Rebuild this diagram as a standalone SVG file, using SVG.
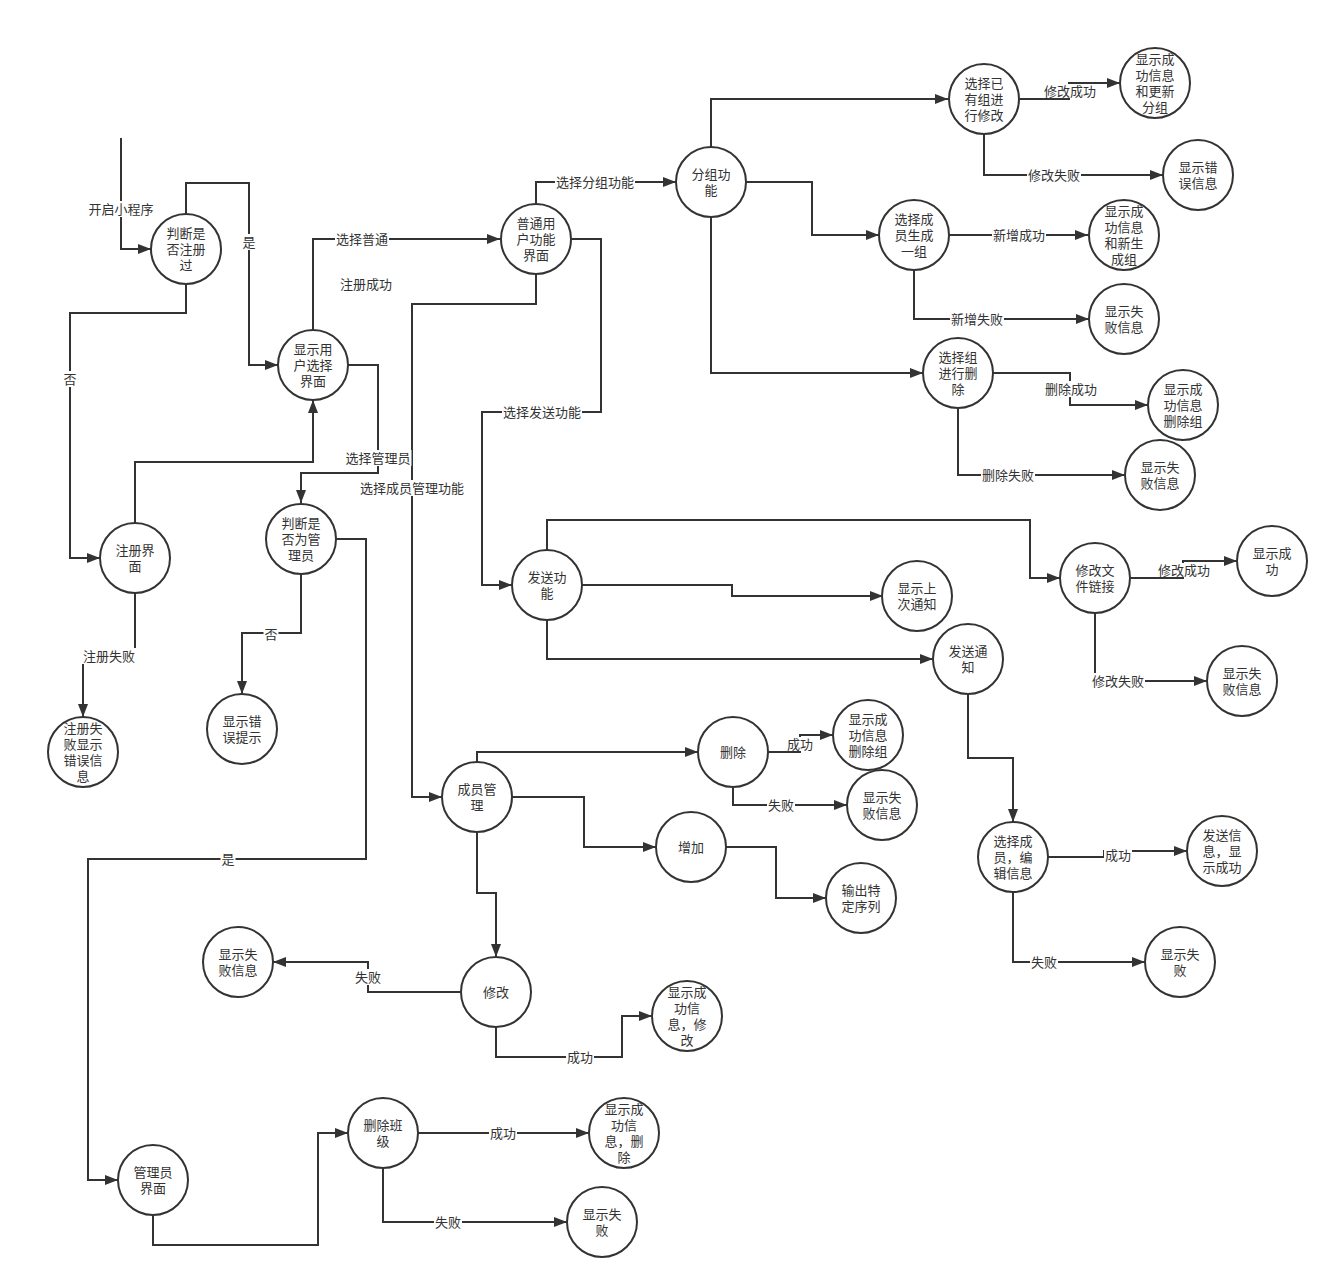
<svg xmlns="http://www.w3.org/2000/svg" width="1339" height="1288" viewBox="0 0 1339 1288">
<style>
.e{fill:none;stroke:#333;stroke-width:2}
.a{marker-end:url(#arr)}
.n circle{fill:#fff;stroke:#333;stroke-width:2}
text{font-family:"Noto Sans CJK SC","Liberation Sans",sans-serif;font-size:13px;fill:#333;text-anchor:middle}
.lb{fill:#fff}
</style>
<defs>
<marker id="arr" viewBox="0 0 13 10" refX="13" refY="5" markerWidth="13" markerHeight="10" markerUnits="userSpaceOnUse" orient="auto"><path d="M0,0 L13,5 L0,10 z" fill="#333"/></marker>
</defs>
<rect width="1339" height="1288" fill="#fff"/>
<g id="connectors">
<polyline class="e a" points="121,138 121,249 151,249"/>
<polyline class="e a" points="186,214 186,183 249,183 249,365 278,365"/>
<polyline class="e a" points="186,284 186,313 70,313 70,558 100,558"/>
<polyline class="e a" points="135,523 135,462 313,462 313,400"/>
<polyline class="e a" points="313,330 313,239 500,239"/>
<polyline class="e a" points="348,365 378,365 378,473 301,473 301,503"/>
<polyline class="e a" points="135,593 135,656 83,656 83,717"/>
<polyline class="e a" points="301,574 301,633 242,633 242,694"/>
<polyline class="e a" points="336,539 366,539 366,859 88,859 88,1180 118,1180"/>
<polyline class="e a" points="536,203 536,182 676,182"/>
<polyline class="e a" points="571,239 601,239 601,412 482,412 482,585 512,585"/>
<polyline class="e a" points="536,274 536,304 412,304 412,797 442,797"/>
<polyline class="e a" points="711,147 711,99 948,99"/>
<polyline class="e a" points="1019,99 1069,99 1069,83 1120,83"/>
<polyline class="e a" points="984,134 984,175 1163,175"/>
<polyline class="e a" points="746,182 812,182 812,235 879,235"/>
<polyline class="e a" points="949,235 1088,235"/>
<polyline class="e a" points="914,270 914,319 1089,319"/>
<polyline class="e a" points="711,217 711,373 923,373"/>
<polyline class="e a" points="993,373 1070,373 1070,405 1148,405"/>
<polyline class="e a" points="958,408 958,475 1125,475"/>
<polyline class="e a" points="547,550 547,520 1030,520 1030,578 1060,578"/>
<polyline class="e a" points="582,585 732,585 732,596 883,596"/>
<polyline class="e a" points="547,620 547,659 933,659"/>
<polyline class="e a" points="1130,578 1183,578 1183,561 1237,561"/>
<polyline class="e a" points="1095,613 1095,681 1207,681"/>
<polyline class="e a" points="968,694 968,758 1013,758 1013,822"/>
<polyline class="e a" points="1048,857 1104,857 1104,851 1187,851"/>
<polyline class="e a" points="1013,892 1013,962 1145,962"/>
<polyline class="e a" points="477,762 477,752 698,752"/>
<polyline class="e a" points="768,752 800,752 800,735 833,735"/>
<polyline class="e a" points="733,787 733,805 847,805"/>
<polyline class="e a" points="512,797 584,797 584,847 656,847"/>
<polyline class="e a" points="726,847 776,847 776,898 826,898"/>
<polyline class="e a" points="477,832 477,893 496,893 496,957"/>
<polyline class="e a" points="461,992 368,992 368,962 273,962"/>
<polyline class="e a" points="496,1027 496,1057 622,1057 622,1016 652,1016"/>
<polyline class="e a" points="153,1215 153,1245 318,1245 318,1133 348,1133"/>
<polyline class="e a" points="418,1133 589,1133"/>
<polyline class="e a" points="383,1168 383,1222 567,1222"/>
</g>
<g id="edge-labels">
<rect class="lb" x="87.5" y="201" width="67" height="16"/><text x="121" y="213.5">开启小程序</text>
<rect class="lb" x="241.5" y="234" width="15" height="16"/><text x="249" y="246.5">是</text>
<rect class="lb" x="62.5" y="371" width="15" height="16"/><text x="70" y="383.5">否</text>
<rect class="lb" x="335" y="231" width="54" height="16"/><text x="362" y="243.5">选择普通</text>
<text x="366" y="288.5">注册成功</text>
<rect class="lb" x="344.5" y="450" width="67" height="16"/><text x="378" y="462.5">选择管理员</text>
<rect class="lb" x="82" y="648" width="54" height="16"/><text x="109" y="660.5">注册失败</text>
<rect class="lb" x="263.5" y="626" width="15" height="16"/><text x="271" y="638.5">否</text>
<rect class="lb" x="220.5" y="851" width="15" height="16"/><text x="228" y="863.5">是</text>
<rect class="lb" x="555" y="174" width="80" height="16"/><text x="595" y="186.5">选择分组功能</text>
<rect class="lb" x="502" y="404" width="80" height="16"/><text x="542" y="416.5">选择发送功能</text>
<rect class="lb" x="359" y="480" width="106" height="16"/><text x="412" y="492.5">选择成员管理功能</text>
<rect class="lb" x="1043" y="84" width="54" height="14"/><text x="1070" y="95.5">修改成功</text>
<rect class="lb" x="1027" y="167" width="54" height="16"/><text x="1054" y="179.5">修改失败</text>
<rect class="lb" x="992" y="227" width="54" height="16"/><text x="1019" y="239.5">新增成功</text>
<rect class="lb" x="950" y="311" width="54" height="16"/><text x="977" y="323.5">新增失败</text>
<rect class="lb" x="1044" y="381" width="54" height="16"/><text x="1071" y="393.5">删除成功</text>
<rect class="lb" x="981" y="467" width="54" height="16"/><text x="1008" y="479.5">删除失败</text>
<rect class="lb" x="1157" y="563" width="54" height="14"/><text x="1184" y="574.5">修改成功</text>
<rect class="lb" x="1091" y="673" width="54" height="16"/><text x="1118" y="685.5">修改失败</text>
<rect class="lb" x="1104" y="847" width="28" height="16"/><text x="1118" y="859.5">成功</text>
<rect class="lb" x="1030" y="954" width="28" height="16"/><text x="1044" y="966.5">失败</text>
<rect class="lb" x="786" y="737" width="28" height="14"/><text x="800" y="748.5">成功</text>
<rect class="lb" x="767" y="797" width="28" height="16"/><text x="781" y="809.5">失败</text>
<rect class="lb" x="354" y="969" width="28" height="16"/><text x="368" y="981.5">失败</text>
<rect class="lb" x="566" y="1049" width="28" height="16"/><text x="580" y="1061.5">成功</text>
<rect class="lb" x="489" y="1125" width="28" height="16"/><text x="503" y="1137.5">成功</text>
<rect class="lb" x="434" y="1214" width="28" height="16"/><text x="448" y="1226.5">失败</text>
</g>
<g id="n1" class="n"><circle cx="186" cy="249" r="35"/><text><tspan x="186" y="237.5">判断是</tspan><tspan x="186" y="253.5">否注册</tspan><tspan x="186" y="269.5">过</tspan></text></g>
<g id="n2" class="n"><circle cx="313" cy="365" r="35"/><text><tspan x="313" y="353.5">显示用</tspan><tspan x="313" y="369.5">户选择</tspan><tspan x="313" y="385.5">界面</tspan></text></g>
<g id="n3" class="n"><circle cx="135" cy="558" r="35"/><text><tspan x="135" y="554.5">注册界</tspan><tspan x="135" y="570.5">面</tspan></text></g>
<g id="n4" class="n"><circle cx="83" cy="752" r="35"/><text><tspan x="83" y="732.5">注册失</tspan><tspan x="83" y="748.5">败显示</tspan><tspan x="83" y="764.5">错误信</tspan><tspan x="83" y="780.5">息</tspan></text></g>
<g id="n5" class="n"><circle cx="301" cy="539" r="35"/><text><tspan x="301" y="527.5">判断是</tspan><tspan x="301" y="543.5">否为管</tspan><tspan x="301" y="559.5">理员</tspan></text></g>
<g id="n6" class="n"><circle cx="242" cy="729" r="35"/><text><tspan x="242" y="725.5">显示错</tspan><tspan x="242" y="741.5">误提示</tspan></text></g>
<g id="n7" class="n"><circle cx="536" cy="239" r="35"/><text><tspan x="536" y="227.5">普通用</tspan><tspan x="536" y="243.5">户功能</tspan><tspan x="536" y="259.5">界面</tspan></text></g>
<g id="n8" class="n"><circle cx="711" cy="182" r="35"/><text><tspan x="711" y="178.5">分组功</tspan><tspan x="711" y="194.5">能</tspan></text></g>
<g id="n9" class="n"><circle cx="984" cy="99" r="35"/><text><tspan x="984" y="87.5">选择已</tspan><tspan x="984" y="103.5">有组进</tspan><tspan x="984" y="119.5">行修改</tspan></text></g>
<g id="n10" class="n"><circle cx="1155" cy="83" r="35"/><text><tspan x="1155" y="63.5">显示成</tspan><tspan x="1155" y="79.5">功信息</tspan><tspan x="1155" y="95.5">和更新</tspan><tspan x="1155" y="111.5">分组</tspan></text></g>
<g id="n11" class="n"><circle cx="1198" cy="175" r="35"/><text><tspan x="1198" y="171.5">显示错</tspan><tspan x="1198" y="187.5">误信息</tspan></text></g>
<g id="n12" class="n"><circle cx="914" cy="235" r="35"/><text><tspan x="914" y="223.5">选择成</tspan><tspan x="914" y="239.5">员生成</tspan><tspan x="914" y="255.5">一组</tspan></text></g>
<g id="n13" class="n"><circle cx="1124" cy="235" r="35"/><text><tspan x="1124" y="215.5">显示成</tspan><tspan x="1124" y="231.5">功信息</tspan><tspan x="1124" y="247.5">和新生</tspan><tspan x="1124" y="263.5">成组</tspan></text></g>
<g id="n14" class="n"><circle cx="1124" cy="319" r="35"/><text><tspan x="1124" y="315.5">显示失</tspan><tspan x="1124" y="331.5">败信息</tspan></text></g>
<g id="n15" class="n"><circle cx="958" cy="373" r="35"/><text><tspan x="958" y="361.5">选择组</tspan><tspan x="958" y="377.5">进行删</tspan><tspan x="958" y="393.5">除</tspan></text></g>
<g id="n16" class="n"><circle cx="1183" cy="405" r="35"/><text><tspan x="1183" y="393.5">显示成</tspan><tspan x="1183" y="409.5">功信息</tspan><tspan x="1183" y="425.5">删除组</tspan></text></g>
<g id="n17" class="n"><circle cx="1160" cy="475" r="35"/><text><tspan x="1160" y="471.5">显示失</tspan><tspan x="1160" y="487.5">败信息</tspan></text></g>
<g id="n18" class="n"><circle cx="547" cy="585" r="35"/><text><tspan x="547" y="581.5">发送功</tspan><tspan x="547" y="597.5">能</tspan></text></g>
<g id="n19" class="n"><circle cx="917" cy="596" r="35"/><text><tspan x="917" y="592.5">显示上</tspan><tspan x="917" y="608.5">次通知</tspan></text></g>
<g id="n20" class="n"><circle cx="968" cy="659" r="35"/><text><tspan x="968" y="655.5">发送通</tspan><tspan x="968" y="671.5">知</tspan></text></g>
<g id="n21" class="n"><circle cx="1095" cy="578" r="35"/><text><tspan x="1095" y="574.5">修改文</tspan><tspan x="1095" y="590.5">件链接</tspan></text></g>
<g id="n22" class="n"><circle cx="1272" cy="561" r="35"/><text><tspan x="1272" y="557.5">显示成</tspan><tspan x="1272" y="573.5">功</tspan></text></g>
<g id="n23" class="n"><circle cx="1242" cy="681" r="35"/><text><tspan x="1242" y="677.5">显示失</tspan><tspan x="1242" y="693.5">败信息</tspan></text></g>
<g id="n24" class="n"><circle cx="1013" cy="857" r="35"/><text><tspan x="1013" y="845.5">选择成</tspan><tspan x="1013" y="861.5">员，编</tspan><tspan x="1013" y="877.5">辑信息</tspan></text></g>
<g id="n25" class="n"><circle cx="1222" cy="851" r="35"/><text><tspan x="1222" y="839.5">发送信</tspan><tspan x="1222" y="855.5">息，显</tspan><tspan x="1222" y="871.5">示成功</tspan></text></g>
<g id="n26" class="n"><circle cx="1180" cy="962" r="35"/><text><tspan x="1180" y="958.5">显示失</tspan><tspan x="1180" y="974.5">败</tspan></text></g>
<g id="n27" class="n"><circle cx="477" cy="797" r="35"/><text><tspan x="477" y="793.5">成员管</tspan><tspan x="477" y="809.5">理</tspan></text></g>
<g id="n28" class="n"><circle cx="733" cy="752" r="35"/><text x="733" y="756.5">删除</text></g>
<g id="n29" class="n"><circle cx="868" cy="735" r="35"/><text><tspan x="868" y="723.5">显示成</tspan><tspan x="868" y="739.5">功信息</tspan><tspan x="868" y="755.5">删除组</tspan></text></g>
<g id="n30" class="n"><circle cx="882" cy="805" r="35"/><text><tspan x="882" y="801.5">显示失</tspan><tspan x="882" y="817.5">败信息</tspan></text></g>
<g id="n31" class="n"><circle cx="691" cy="847" r="35"/><text x="691" y="851.5">增加</text></g>
<g id="n32" class="n"><circle cx="861" cy="898" r="35"/><text><tspan x="861" y="894.5">输出特</tspan><tspan x="861" y="910.5">定序列</tspan></text></g>
<g id="n33" class="n"><circle cx="496" cy="992" r="35"/><text x="496" y="996.5">修改</text></g>
<g id="n34" class="n"><circle cx="687" cy="1016" r="35"/><text><tspan x="687" y="996.5">显示成</tspan><tspan x="687" y="1012.5">功信</tspan><tspan x="687" y="1028.5">息，修</tspan><tspan x="687" y="1044.5">改</tspan></text></g>
<g id="n35" class="n"><circle cx="238" cy="962" r="35"/><text><tspan x="238" y="958.5">显示失</tspan><tspan x="238" y="974.5">败信息</tspan></text></g>
<g id="n36" class="n"><circle cx="153" cy="1180" r="35"/><text><tspan x="153" y="1176.5">管理员</tspan><tspan x="153" y="1192.5">界面</tspan></text></g>
<g id="n37" class="n"><circle cx="383" cy="1133" r="35"/><text><tspan x="383" y="1129.5">删除班</tspan><tspan x="383" y="1145.5">级</tspan></text></g>
<g id="n38" class="n"><circle cx="624" cy="1133" r="35"/><text><tspan x="624" y="1113.5">显示成</tspan><tspan x="624" y="1129.5">功信</tspan><tspan x="624" y="1145.5">息，删</tspan><tspan x="624" y="1161.5">除</tspan></text></g>
<g id="n39" class="n"><circle cx="602" cy="1222" r="35"/><text><tspan x="602" y="1218.5">显示失</tspan><tspan x="602" y="1234.5">败</tspan></text></g>
</svg>
